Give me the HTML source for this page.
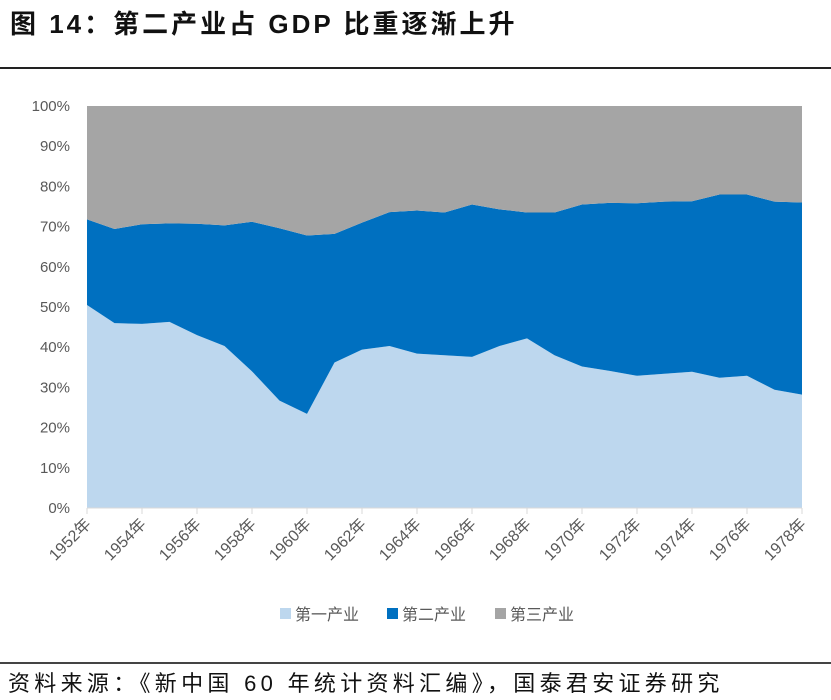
<!DOCTYPE html>
<html><head><meta charset="utf-8"><style>
body{margin:0;width:831px;height:700px;background:#fff;overflow:hidden;font-family:"Liberation Sans","Noto Sans CJK SC",sans-serif;}
#title{position:absolute;left:10px;top:4px;font-size:26px;font-weight:bold;color:#111;letter-spacing:3px;font-family:"Liberation Sans Narrow","Liberation Sans","Noto Sans CJK SC",sans-serif;}
#topline{position:absolute;left:0;top:67px;width:831px;height:2px;background:#222;}
#botline{position:absolute;left:0;top:662px;width:831px;height:2px;background:#444;}
#source{position:absolute;left:8px;top:666px;font-size:22px;color:#111;font-family:"Liberation Sans","Noto Sans CJK SC",sans-serif;letter-spacing:4.3px;}
svg{position:absolute;left:0;top:0;}
</style></head><body>
<div id="title">图 14：第二产业占 GDP 比重逐渐上升</div>
<div id="topline"></div>
<svg id="chart" width="831" height="700"></svg>
<div id="botline"></div>
<div id="source">资料来源：《新中国 60 年统计资料汇编》，国泰君安证券研究</div>
<script>
const years=[1952,1953,1954,1955,1956,1957,1958,1959,1960,1961,1962,1963,1964,1965,1966,1967,1968,1969,1970,1971,1972,1973,1974,1975,1976,1977,1978];
const primary=[50.5,46,45.8,46.3,43,40.3,34,26.7,23.4,36.2,39.4,40.3,38.4,38,37.6,40.3,42.2,38,35.2,34.1,32.9,33.4,33.9,32.4,32.9,29.4,28.2];
const secondary=[21.3,23.4,24.8,24.5,27.7,30,37.2,42.9,44.4,32,31.6,33.3,35.6,35.5,37.9,34,31.3,35.5,40.3,41.8,42.9,42.8,42.4,45.6,45.1,46.8,47.8];
const yTicks=[0,10,20,30,40,50,60,70,80,90,100];
const seriesNames=["第一产业","第二产业","第三产业"];
const colors=["#bdd7ee","#0070c0","#a5a5a5"];
const NS="http://www.w3.org/2000/svg";
const svg=document.getElementById('chart');
const x0=87,x1=802,yTop=106,yBot=508;
const X=i=>x0+(x1-x0)*i/(years.length-1);
const Y=v=>yBot-(yBot-yTop)*v/100;
function mk(t,a){const e=document.createElementNS(NS,t);for(const k in a)e.setAttribute(k,a[k]);svg.appendChild(e);return e;}
const cum1=primary, cum2=primary.map((p,i)=>p+secondary[i]);
const layers=[[years.map(()=>0),cum1],[cum1,cum2],[cum2,years.map(()=>100)]];
layers.forEach((l,k)=>{
  let d='';
  l[1].forEach((v,i)=>{d+=(i?'L':'M')+X(i)+','+Y(v);});
  for(let i=years.length-1;i>=0;i--)d+='L'+X(i)+','+Y(l[0][i]);
  const p=mk('path',{d:d+'Z',fill:colors[k]});
  
  
});
yTicks.forEach(v=>{
  const t=mk('text',{x:70,y:Y(v)+5,'text-anchor':'end','font-size':15,fill:'#595959'});
  t.textContent=v+'%';
  
  
});
const ax=mk('line',{x1:x0,x2:x1,y1:yBot,y2:yBot,stroke:'#d9d9d9','stroke-width':1});


years.forEach((yr,i)=>{
  if(i%2)return;
  const tk=mk('line',{x1:X(i),x2:X(i),y1:yBot,y2:yBot+6,stroke:'#d9d9d9'});
  
  
  const t=mk('text',{x:X(i)+5,y:yBot+17,'text-anchor':'end','font-size':16,fill:'#595959',transform:`rotate(-45 ${X(i)+5} ${yBot+17})`});
  t.textContent=yr+'年';
  
  
});
const lx=[280,387,495];
seriesNames.forEach((n,k)=>{
  const r=mk('rect',{x:lx[k],y:608,width:11,height:11,fill:colors[k]});
  
  
  const t=mk('text',{x:lx[k]+15,y:620,'font-size':16,fill:'#595959'});
  t.textContent=n;
  
  
});
</script>
</body></html>
